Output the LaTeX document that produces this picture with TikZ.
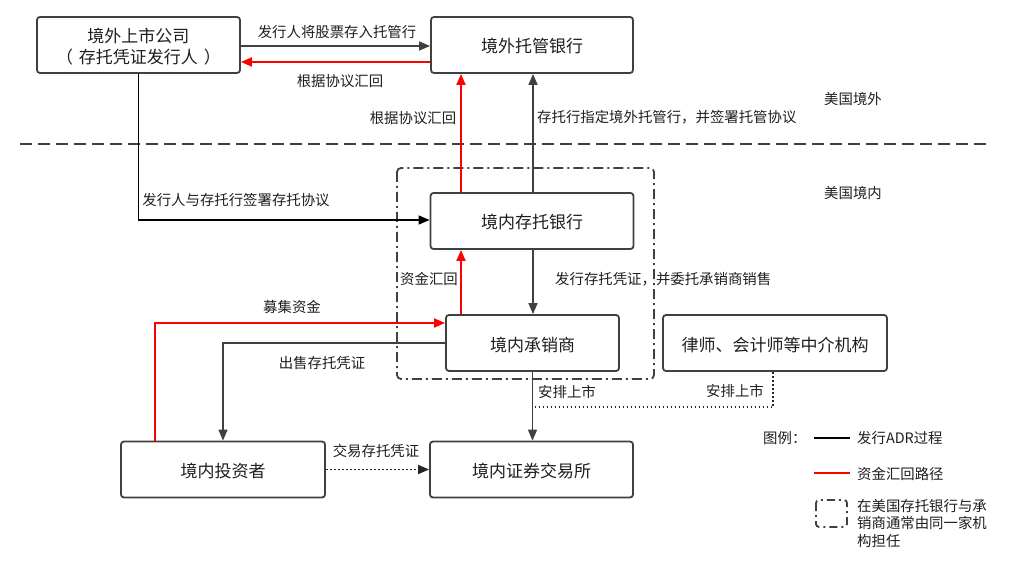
\documentclass[tikz,border=0pt]{standalone}
\usepackage{fontspec}
\setmainfont{Noto Sans CJK SC}
\usetikzlibrary{arrows.meta}
\definecolor{dk}{RGB}{64,64,64}
\definecolor{rd}{RGB}{255,0,0}
\definecolor{tx}{RGB}{30,30,30}
\tikzset{
  box/.style={draw=dk, line width=1.8pt, rounded corners=3pt, minimum height=56pt, inner sep=0pt,
              font=\fontsize{17}{21.5}\selectfont, align=center, text=tx,
              text height=16pt, text depth=0pt},
  lbl/.style={inner sep=0pt, font=\fontsize{14.4}{17.5}\selectfont, text=tx},
  tip/.style={-{Triangle[length=11pt,width=9pt]}},
  blk/.style={draw=dk, line width=1.5pt, tip},
  money/.style={draw=rd, line width=1.8pt, tip},
  dotln/.style={draw=black!85, line width=1.6pt, dash pattern=on 1.6pt off 2.4pt},
  divline/.style={draw=dk, line width=1.8pt, dash pattern=on 12pt off 6pt},
  frameln/.style={draw=dk, line width=1.8pt, dash pattern=on 10pt off 4pt on 2pt off 4pt, rounded corners=4pt},
}
\begin{document}
\begin{tikzpicture}[x=1pt,y=-1pt]
\useasboundingbox (0,0) rectangle (1012,564);

% divider and frame
\coordinate (dl) at (20,144);
\coordinate (dr) at (990,144);
\draw[divline] (dl) -- (dr);
\coordinate (fa) at (397,168);
\coordinate (fb) at (654,379);
\draw[frameln] (fa) rectangle (fb);

% boxes
\node[box, minimum width=203pt, text height=37.5pt, text depth=0pt] (A) at (138.5,45) {境外上市公司\\（\hspace{6pt}存托凭证发行人\hspace{6pt}）};
\node[box, minimum width=202pt] (B) at (532,45) {境外托管银行};
\node[box, minimum width=203pt] (C) at (532,221) {境内存托银行};
\node[box, minimum width=173pt] (D) at (532.5,343) {境内承销商};
\node[box, minimum width=224pt] (E) at (775,343) {律师、会计师等中介机构};
\node[box, minimum width=204pt] (F) at (223,469.5) {境内投资者};
\node[box, minimum width=203pt] (G) at (531.5,469.5) {境内证券交易所};

% connectors
\draw[blk] ([yshift=-1pt]A.east) -- ([yshift=-1pt]B.west);
\draw[money] ([yshift=-17pt]B.west) -- ([yshift=-17pt]A.east);
\draw[money] ([xshift=-71pt]C.north) -- ([xshift=-71pt]B.south);
\draw[blk] ([xshift=1pt]C.north) -- ([xshift=1pt]B.south);
\draw[blk, draw=black] (A.south) |- ([yshift=1pt]C.west);
\draw[blk] ([xshift=1pt]C.south) -- ([xshift=1pt]C.south |- D.north);
\draw[money] ([xshift=-71pt]C.south |- D.north) -- ([xshift=-71pt]C.south);
\draw[money] ([xshift=-68pt]F.north) |- ([yshift=20pt]D.west);
\draw[blk] (D.west) -| (F.north);
\draw[blk] (D.south) -- (D.south |- G.north);
\coordinate (J) at (533,407);
\draw[dotln] ([xshift=-2pt]E.south) |- (J);
\draw[dotln, tip] (F.east) -- (G.west);

% labels
\node[lbl] (t1) at (337,32) {发行人将股票存入托管行};
\node[lbl] (t2) at (340,81) {根据协议汇回};
\node[lbl] (t3) at (413,118) {根据协议汇回};
\node[lbl, anchor=west] (t4) at (537,117) {存托行指定境外托管行，并签署托管协议};
\node[lbl] (t5) at (853,99) {美国境外};
\node[lbl] (t6) at (853,193) {美国境内};
\node[lbl] (t7) at (236,200) {发行人与存托行签署存托协议};
\node[lbl, anchor=west] (t8) at (555,279) {发行存托凭证，并委托承销商销售};
\node[lbl] (t9) at (429,279) {资金汇回};
\node[lbl] (t10) at (292,307) {募集资金};
\node[lbl] (t11) at (322,363) {出售存托凭证};
\node[lbl] (t12) at (376,451) {交易存托凭证};
\node[lbl, anchor=west] (t13) at (538,392) {安排上市};
\node[lbl] (t14) at (735,391) {安排上市};

% legend
\node[lbl, anchor=west] (lg) at (763,438) {图例：};
\coordinate (l1a) at (814,438);
\coordinate (l1b) at (850,438);
\draw[draw=black, line width=1.5pt] (l1a) -- (l1b);
\node[lbl, anchor=west] (lg1) at (857,438) {发行ADR过程};
\coordinate (l2a) at (814,473);
\coordinate (l2b) at (850,473);
\draw[draw=rd, line width=1.8pt] (l2a) -- (l2b);
\node[lbl, anchor=west] (lg2) at (857,474) {资金汇回路径};
\coordinate (l3a) at (816,500);
\coordinate (l3b) at (847,527);
\draw[frameln, dash pattern=on 8pt off 4pt on 2pt off 4pt, rounded corners=3pt] (l3a) rectangle (l3b);
\node[lbl, anchor=north west, align=left] (lg3) at (857,499) {在美国存托银行与承\\销商通常由同一家机\\构担任};
\end{tikzpicture}
\end{document}
